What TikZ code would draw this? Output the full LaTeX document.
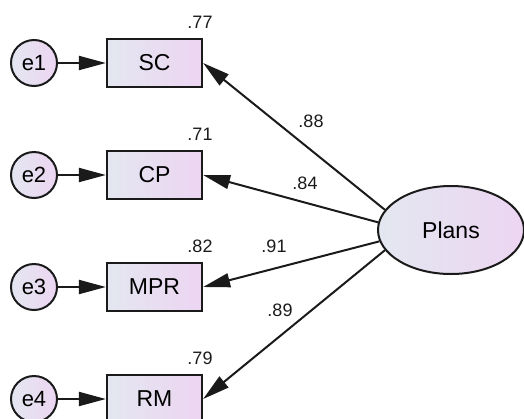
\documentclass[tikz,border=0pt]{standalone}
\usepackage{fontspec}
\setmainfont{Liberation Sans}
\usetikzlibrary{arrows.meta,shapes.geometric}
\definecolor{fillL}{HTML}{E3E7F0}
\definecolor{fillR}{HTML}{EDD5F2}
\definecolor{ink}{HTML}{1A1A1A}
\begin{document}
\begin{tikzpicture}[x=1pt,y=-1pt,
  obs/.style={draw=ink, line width=2.2pt, minimum width=95pt, minimum height=48pt,
    inner sep=0pt, left color=fillL, right color=fillR,
    font=\fontsize{23}{23}\selectfont},
  err/.style={circle, draw=ink, line width=2pt, minimum size=46pt, inner sep=0pt,
    left color=fillL, right color=fillR, font=\fontsize{22}{22}\selectfont},
  lat/.style={ellipse, draw=ink, line width=2pt, minimum width=146pt,
    minimum height=88pt, inner sep=0pt, left color=fillL, right color=fillR,
    font=\fontsize{23}{23}\selectfont},
  link/.style={-{Triangle[length=27pt,width=14pt]}, line width=2pt, draw=ink},
  coef/.style={font=\fontsize{18}{18}\selectfont, inner sep=0pt, text=ink}
]
\useasboundingbox (0,0) rectangle (524,418);

% latent factor
\node[lat] (plans) at (451,230) {Plans};

% indicators
\node[obs] (sc)  at (154.5,63)  {SC};
\node[obs] (cp)  at (154.5,175) {CP};
\node[obs] (mpr) at (154.5,287) {MPR};
\node[obs] (rm)  at (154.5,399) {RM};

% error terms
\node[err] (e1) at (34,63)  {e1};
\node[err] (e2) at (34,175) {e2};
\node[err] (e3) at (34,287) {e3};
\node[err] (e4) at (34,399) {e4};

% squared multiple correlations
\node[coef] (r1) at (200,22)  {.77};
\node[coef] (r2) at (200,134) {.71};
\node[coef] (r3) at (200,246) {.82};
\node[coef] (r4) at (200,358) {.79};

% error paths
\draw[link] (e1) -- (sc);
\draw[link] (e2) -- (cp);
\draw[link] (e3) -- (mpr);
\draw[link] (e4) -- (rm);

% factor loadings
\draw[link] (plans.163) -- (sc.east);
\draw[link] (plans.174) -- (cp.east);
\draw[link] (plans.189) -- (mpr.east);
\draw[link] (plans.197) -- (rm.east);

\node[coef] (l1) at (311,121) {.88};
\node[coef] (l2) at (305,183) {.84};
\node[coef] (l3) at (274,246) {.91};
\node[coef] (l4) at (280,310) {.89};
\end{tikzpicture}
\end{document}
